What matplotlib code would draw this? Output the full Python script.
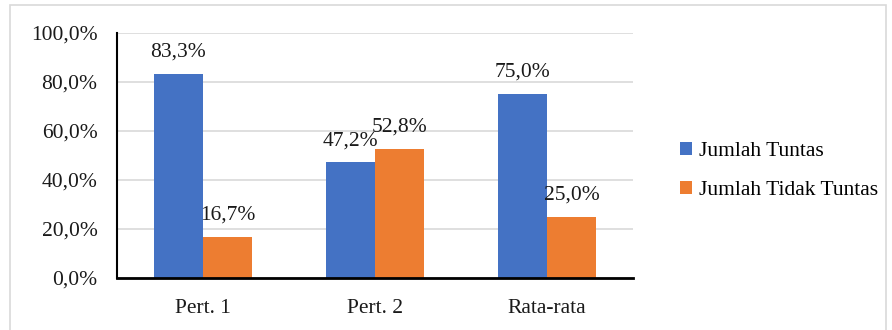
import matplotlib.pyplot as plt
import numpy as np
from matplotlib.patches import Rectangle

categories = ['Pert. 1', 'Pert. 2', 'Rata-rata']
tuntas = [83.3, 47.2, 75.0]
tidak_tuntas = [16.7, 52.8, 25.0]
series_names = ['Jumlah Tuntas', 'Jumlah Tidak Tuntas']
colors = ['#4472C4', '#ED7D31']

plt.rcParams['font.family'] = ['Liberation Serif', 'DejaVu Serif']
fs = 15.5

fig = plt.figure(figsize=(8.92, 3.3), dpi=100)
ax = fig.add_axes([117 / 892, 52 / 330, (633 - 117) / 892, (278 - 33) / 330])

x = np.arange(len(categories))
w = 0.285
for vals, off, c, name in [(tuntas, -w / 2, colors[0], series_names[0]),
                           (tidak_tuntas, w / 2, colors[1], series_names[1])]:
    bars = ax.bar(x + off, vals, w, color=c, label=name, zorder=3)
    for b, v in zip(bars, vals):
        ax.text(b.get_x() + b.get_width() / 2, v + 5, f'{v:.1f}%'.replace('.', ','),
                ha='center', va='bottom', fontsize=fs, color='#1a1a1a', zorder=4)

ax.set_xlim(-0.5, 2.5)
ax.set_ylim(0, 100)
ax.set_yticks(range(0, 101, 20))
ax.set_yticklabels([f'{t},0%' for t in range(0, 101, 20)])
ax.set_xticks(x)
ax.set_xticklabels(categories)
ax.tick_params(axis='both', length=0, labelsize=fs, colors='#1a1a1a')
ax.tick_params(axis='y', pad=14)
ax.tick_params(axis='x', pad=15)
ax.grid(axis='y', color='#d9d9d9', linewidth=1.2, zorder=0)
for s in ['top', 'right']:
    ax.spines[s].set_visible(False)
ax.spines['left'].set_linewidth(1.5)
ax.spines['bottom'].set_linewidth(2)
ax.spines['left'].set_zorder(5)
ax.spines['bottom'].set_zorder(5)

ax.legend(loc='center left', bbox_to_anchor=(661 / 892, 159 / 330),
          bbox_transform=fig.transFigure, frameon=False, fontsize=fs,
          handlelength=0.55, handleheight=0.55, handletextpad=0.3, labelspacing=0.95)

# chart area border
fig.patches.append(Rectangle((10 / 892, -0.05), 876 / 892, 1.0 - 5 / 330 + 0.05,
                             transform=fig.transFigure, fill=False,
                             edgecolor='#d9d9d9', linewidth=1.2))

fig.savefig('out.png', dpi=100)
